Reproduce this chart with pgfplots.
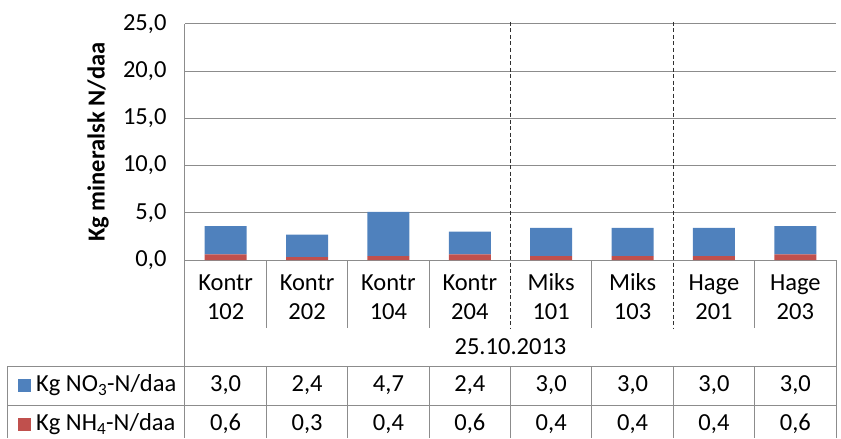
\documentclass[border=0pt]{standalone}
\usepackage{fontspec}
\setmainfont{Carlito}
\usepackage{pgfplots}
\usepackage{pgfplotstable}
\pgfplotsset{compat=1.18}

\definecolor{no3blue}{HTML}{4F81BD}
\definecolor{nh4red}{HTML}{C0504D}
\definecolor{gridgray}{HTML}{8C8C8C}
\definecolor{dashgray}{HTML}{303030}

\newcommand{\chartfont}{\fontsize{24.5}{29.5}\selectfont}
% pixel row of the reference -> axis y (0 at px 260, 9.44 px per unit)
\newcommand{\py}[1]{{(260-#1)/9.44}}
\newcommand{\cat}[2]{\strut#1\\\strut#2}

\pgfplotstableread{
x no3 nh4
0 3.0 0.6
1 2.4 0.3
2 4.7 0.4
3 2.4 0.6
4 3.0 0.4
5 3.0 0.4
6 3.0 0.4
7 3.0 0.6
}\datatable

\pgfplotsset{
  base/.style={
    scale only axis, width=651pt, height=236pt,
    xmin=-0.5, xmax=7.5, ymin=0, ymax=25, clip=false,
    /pgf/number format/.cd, fixed, fixed zerofill, precision=1,
      use comma, assume math mode=true,
  },
}

\begin{document}
\begin{tikzpicture}
\begin{axis}[
    base,
    ybar stacked,
    bar width=42pt,
    axis line style={draw=none},
    major tick length=0pt,
    ytick={0,5,...,25},
    ymajorgrids,
    grid style={gridgray, line width=1pt},
    xtick={0,...,7},
    xticklabels={{\cat{Kontr}{102}},{\cat{Kontr}{202}},{\cat{Kontr}{104}},{\cat{Kontr}{204}},
                 {\cat{Miks}{101}},{\cat{Miks}{103}},{\cat{Hage}{201}},{\cat{Hage}{203}}},
    x tick label style={align=center, font=\chartfont, anchor=north, yshift=-6pt},
    y tick label style={font=\chartfont, xshift=-15pt},
  ]
  \addplot[fill=nh4red, draw=none] table[x=x, y=nh4]{\datatable};
  \addplot[fill=no3blue, draw=none] table[x=x, y=no3]{\datatable};

  % frame of plot area and data table
  \draw[gridgray, line width=1pt] (axis cs:-0.5,25) -- (axis cs:-0.5,\py{438});
  \draw[gridgray, line width=1pt] (axis cs:7.5,0) -- (axis cs:7.5,\py{438});
  \draw[gridgray, line width=1pt] (axis cs:-2.675,\py{366}) -- (axis cs:7.5,\py{366});
  \draw[gridgray, line width=1pt] (axis cs:-2.675,\py{405}) -- (axis cs:7.5,\py{405});
  \draw[gridgray, line width=1pt] (axis cs:-2.675,\py{366}) -- (axis cs:-2.675,\py{438});
  \pgfplotsinvokeforeach{0.5,1.5,2.5,4.5,6.5}{
    \draw[gridgray, line width=1pt] (axis cs:#1,0) -- (axis cs:#1,\py{328});
  }
  \pgfplotsinvokeforeach{0.5,1.5,2.5,3.5,4.5,5.5,6.5}{
    \draw[gridgray, line width=1pt] (axis cs:#1,\py{366}) -- (axis cs:#1,\py{438});
  }
  \pgfplotsinvokeforeach{3.5,5.5}{
    \draw[dashgray, line width=1pt, dash pattern=on 4pt off 2.5pt]
      (axis cs:#1,\py{22}) -- (axis cs:#1,\py{328});
  }

  \node[font=\chartfont] at (axis cs:3.5,\py{347}) {25.10.2013};
  \node[rotate=90, font=\chartfont\bfseries] at (axis cs:-1.569,12.5) {Kg mineralsk N/daa};

  \node[fill=no3blue, minimum size=13pt, inner sep=0pt] at (axis cs:-2.472,\py{385.5}) {};
  \node[anchor=west, font=\chartfont, inner sep=0pt] at (axis cs:-2.331,\py{385.5}) {Kg NO\textsubscript{3}-N/daa};
  \node[fill=nh4red, minimum size=13pt, inner sep=0pt] at (axis cs:-2.472,\py{424}) {};
  \node[anchor=west, font=\chartfont, inner sep=0pt] at (axis cs:-2.331,\py{424}) {Kg NH\textsubscript{4}-N/daa};

  \coordinate (bbsw) at (axis cs:-2.773,\py{438});
  \coordinate (bbne) at (axis cs:7.561,\py{0});
\end{axis}

% table values
\begin{axis}[base, hide axis]
  \addplot[draw=none, mark=none, point meta=explicit,
    nodes near coords, nodes near coords style={font=\chartfont, anchor=center}]
    table[x=x, y expr=\py{385.5}, meta=no3]{\datatable};
  \addplot[draw=none, mark=none, point meta=explicit,
    nodes near coords, nodes near coords style={font=\chartfont, anchor=center}]
    table[x=x, y expr=\py{424}, meta=nh4]{\datatable};
\end{axis}

\pgfresetboundingbox
\path[use as bounding box] (bbsw) rectangle (bbne);
\end{tikzpicture}
\end{document}
